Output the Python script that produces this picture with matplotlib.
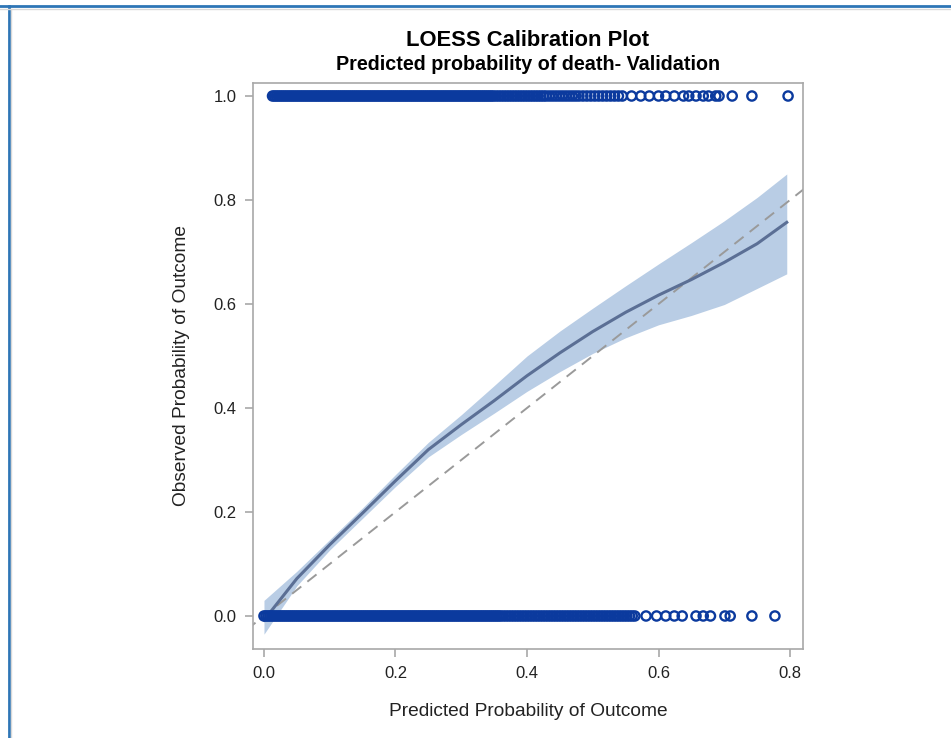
import matplotlib.pyplot as plt
from matplotlib.lines import Line2D

# observed outcome = 1 : predicted probabilities
died_x = [0.013, 0.016, 0.019, 0.022, 0.025, 0.028, 0.031, 0.034, 0.037, 0.040,
          0.043, 0.046, 0.049, 0.052, 0.055, 0.058, 0.061, 0.064, 0.067, 0.070,
          0.073, 0.076, 0.079, 0.082, 0.085, 0.088, 0.091, 0.094, 0.097, 0.100,
          0.103, 0.106, 0.109, 0.112, 0.115, 0.118, 0.121, 0.124, 0.127, 0.130,
          0.133, 0.136, 0.139, 0.142, 0.145, 0.148, 0.151, 0.154, 0.157, 0.160,
          0.163, 0.166, 0.169, 0.172, 0.175, 0.178, 0.181, 0.184, 0.187, 0.190,
          0.193, 0.196, 0.199, 0.202, 0.205, 0.208, 0.211, 0.214, 0.217, 0.220,
          0.223, 0.226, 0.229, 0.232, 0.235, 0.238, 0.241, 0.244, 0.247, 0.250,
          0.253, 0.256, 0.259, 0.262, 0.265, 0.268, 0.271, 0.274, 0.277, 0.280,
          0.283, 0.286, 0.289, 0.292, 0.295, 0.298, 0.301, 0.304, 0.307, 0.310,
          0.313, 0.316, 0.319, 0.322, 0.325, 0.328, 0.331, 0.334, 0.337, 0.340,
          0.343, 0.346, 0.349,
          0.353, 0.357, 0.361, 0.365, 0.369, 0.373, 0.377, 0.381, 0.385, 0.389,
          0.393, 0.397, 0.401, 0.405, 0.409, 0.413, 0.417, 0.421, 0.425, 0.429,
          0.434, 0.439, 0.444, 0.449, 0.454, 0.459, 0.464, 0.469, 0.474, 0.479,
          0.485, 0.491, 0.497, 0.503, 0.509, 0.515, 0.521, 0.527, 0.533, 0.539,
          0.545, 0.559, 0.573, 0.586, 0.600, 0.611, 0.624, 0.638, 0.646, 0.657,
          0.668, 0.676, 0.687, 0.692, 0.712, 0.742, 0.797]

# observed outcome = 0 : predicted probabilities
alive_x = [0.000, 0.003, 0.006, 0.009, 0.012, 0.015, 0.018, 0.021, 0.024, 0.027,
           0.030, 0.033, 0.036, 0.039, 0.042, 0.045, 0.048, 0.051, 0.054, 0.057,
           0.060, 0.063, 0.066, 0.069, 0.072, 0.075, 0.078, 0.081, 0.084, 0.087,
           0.090, 0.093, 0.096, 0.099, 0.102, 0.105, 0.108, 0.111, 0.114, 0.117,
           0.120, 0.123, 0.126, 0.129, 0.132, 0.135, 0.138, 0.141, 0.144, 0.147,
           0.150, 0.153, 0.156, 0.159, 0.162, 0.165, 0.168, 0.171, 0.174, 0.177,
           0.180, 0.183, 0.186, 0.189, 0.192, 0.195, 0.198, 0.201, 0.204, 0.207,
           0.210, 0.213, 0.216, 0.219, 0.222, 0.225, 0.228, 0.231, 0.234, 0.237,
           0.240, 0.243, 0.246, 0.249, 0.252, 0.255, 0.258, 0.261, 0.264, 0.267,
           0.270, 0.273, 0.276, 0.279, 0.282, 0.285, 0.288, 0.291, 0.294, 0.297,
           0.300, 0.303, 0.306, 0.309, 0.312, 0.315, 0.318, 0.321, 0.324, 0.327,
           0.330, 0.333, 0.336, 0.339, 0.342, 0.345, 0.348, 0.351, 0.354, 0.357,
           0.360,
           0.364, 0.368, 0.372, 0.376, 0.380, 0.384, 0.388, 0.392, 0.396, 0.400,
           0.404, 0.408, 0.412, 0.416, 0.420, 0.424, 0.428, 0.432, 0.436, 0.440,
           0.444, 0.448, 0.452, 0.456, 0.460, 0.464, 0.468, 0.472, 0.476, 0.480,
           0.484, 0.488, 0.492, 0.496, 0.500, 0.504, 0.508, 0.512, 0.516, 0.520,
           0.524, 0.528, 0.532, 0.536, 0.540, 0.544, 0.548, 0.552, 0.556, 0.560,
           0.564,
           0.581, 0.597, 0.611, 0.624, 0.636, 0.657, 0.668, 0.679, 0.701, 0.709,
           0.742, 0.777]

# loess fit and confidence band
loess_x = [0.0, 0.05, 0.1, 0.15, 0.2, 0.25, 0.3, 0.35, 0.4, 0.45, 0.5,
           0.55, 0.6, 0.65, 0.7, 0.75, 0.795]
loess_y = [-0.008, 0.072, 0.137, 0.198, 0.260, 0.320, 0.368, 0.414, 0.462,
           0.506, 0.547, 0.584, 0.617, 0.647, 0.680, 0.716, 0.757]
band_lo = [-0.035, 0.058, 0.127, 0.188, 0.249, 0.306, 0.349, 0.390, 0.432,
           0.470, 0.505, 0.535, 0.560, 0.578, 0.599, 0.630, 0.658]
band_hi = [0.030, 0.086, 0.147, 0.208, 0.272, 0.334, 0.387, 0.443, 0.500,
           0.548, 0.592, 0.635, 0.677, 0.718, 0.760, 0.805, 0.850]

plt.rcParams['font.family'] = ['Liberation Sans', 'DejaVu Sans']

fig = plt.figure(figsize=(9.51, 7.38), dpi=100)
ax = fig.add_axes([253 / 951, 1 - 649 / 738, 550 / 951, 566 / 738])

ax.fill_between(loess_x, band_lo, band_hi, color='#b9cde5', lw=0, zorder=1)
ax.plot([-0.05, 0.9], [-0.05, 0.9], color='#9a9a9a', lw=1.4,
        dashes=(6, 4), zorder=2)
ax.plot(loess_x, loess_y, color='#5b6f95', lw=2.2, zorder=3)
ax.scatter(died_x, [1.0] * len(died_x), s=44, facecolors='none',
           edgecolors='#0b3a9e', linewidths=1.7, zorder=4)
ax.scatter(alive_x, [0.0] * len(alive_x), s=44, facecolors='none',
           edgecolors='#0b3a9e', linewidths=1.7, zorder=4)

ax.set_xlim(-0.0167, 0.8197)
ax.set_ylim(-0.0635, 1.025)
ax.set_xticks([0.0, 0.2, 0.4, 0.6, 0.8])
ax.set_yticks([0.0, 0.2, 0.4, 0.6, 0.8, 1.0])
ax.set_xticklabels(['0.0', '0.2', '0.4', '0.6', '0.8'])
ax.set_yticklabels(['0.0', '0.2', '0.4', '0.6', '0.8', '1.0'])
for s in ax.spines.values():
    s.set_color('#a8a8a8')
    s.set_linewidth(1.2)
ax.tick_params(direction='out', length=6, width=1.2, color='#a8a8a8',
               labelsize=12, labelcolor='#222222', pad=6)

ax.set_xlabel('Predicted Probability of Outcome', fontsize=13.8,
              color='#222222', labelpad=16)
ax.set_ylabel('Observed Probability of Outcome', fontsize=13.8,
              color='#222222', labelpad=17)

fig.text(528 / 951, 1 - 41 / 738, 'LOESS Calibration Plot', ha='center',
         va='center', fontsize=15.8, fontweight='bold')
fig.text(528 / 951, 1 - 64 / 738, 'Predicted probability of death- Validation',
         ha='center', va='center', fontsize=14.2, fontweight='bold')

# window frame lines on the left and top
fig.add_artist(Line2D([0, 1], [1 - 6 / 738, 1 - 6 / 738], color='#2e75b6', lw=2))
fig.add_artist(Line2D([9 / 951, 9 / 951], [0, 1 - 6 / 738], color='#2e75b6', lw=2))
fig.add_artist(Line2D([0, 1], [1 - 8.5 / 738, 1 - 8.5 / 738], color='#d8d8d8', lw=1))
fig.add_artist(Line2D([11 / 951, 11 / 951], [0, 1 - 8.5 / 738], color='#d8d8d8', lw=1))

fig.savefig('out.png', dpi=100)
